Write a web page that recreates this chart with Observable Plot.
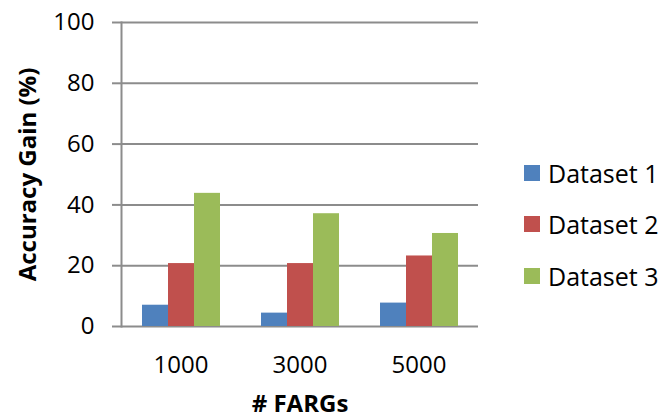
<!DOCTYPE html>
<html><head><meta charset="utf-8">
<script src="https://cdn.jsdelivr.net/npm/d3@7"></script>
<script src="https://cdn.jsdelivr.net/npm/@observablehq/plot@0.6"></script>
<style>
body{margin:0;background:#fff;}
#wrap{position:relative;width:672px;height:419px;font-family:"Open Sans",sans-serif;}
#legend{position:absolute;left:524px;top:0;}
.item{position:absolute;left:0;display:flex;align-items:center;white-space:nowrap;font-size:25px;color:#000;height:30px;}
.sw{width:16px;height:16px;margin-right:8px;flex:none;}
g[aria-label="y-axis label"] text, g[aria-label="fx-axis label"] text{font-weight:bold;}
</style></head><body><div id="wrap"><div id="legend"></div></div>
<script>
const groups = ["1000", "3000", "5000"];
const series = ["Dataset 1", "Dataset 2", "Dataset 3"];
const colors = ["#4F81BD", "#C0504D", "#9BBB59"];
const dataset1 = [7.0, 4.4, 7.7];
const dataset2 = [20.7, 20.7, 23.2];
const dataset3 = [43.8, 37.1, 30.6];
const yTicks = [0, 20, 40, 60, 80, 100];

const values = [dataset1, dataset2, dataset3];
const rows = groups.flatMap((g, i) => series.map((s, j) => ({group: g, series: s, value: values[j][i]})));

const plot = Plot.plot({
  width: 672, height: 419,
  marginLeft: 120, marginRight: 193, marginTop: 22, marginBottom: 93,
  style: {fontFamily: "'Open Sans', sans-serif", fontSize: "24px", background: "#fff", color: "#000", overflow: "visible"},
  fx: {domain: groups, paddingInner: 0, paddingOuter: 0},
  x: {domain: series, axis: null, paddingInner: 0, paddingOuter: 0.75},
  y: {domain: [0, 100]},
  color: {domain: series, range: colors},
  marks: [
    Plot.ruleY(yTicks, {stroke: "#8c8c8c", strokeWidth: 2}),
    Plot.barY(rows, {fx: "group", x: "series", y: "value", fill: "series"}),
    Plot.frame({anchor: "left", stroke: "#8c8c8c", strokeWidth: 2, facetAnchor: "left"}),
    Plot.axisY({ticks: yTicks, tickSize: 9, tickPadding: 18, stroke: "#8c8c8c", strokeWidth: 2, fill: "#000",
      fontSize: 24,
      label: "Accuracy Gain (%)", labelAnchor: "center", labelArrow: "none", labelOffset: 103}),
    Plot.axisFx({anchor: "bottom", tickSize: 0, tickPadding: 29, fill: "#000", fontSize: 24,
      label: "# FARGs", labelAnchor: "center", labelArrow: "none", labelOffset: 85})
  ]
});
document.getElementById("wrap").prepend(plot);

const legend = document.getElementById("legend");
const rowY = [173, 224, 276];
series.forEach((s, i) => {
  const it = document.createElement("div");
  it.className = "item";
  it.style.top = (rowY[i] - 15) + "px";
  const sw = document.createElement("span");
  sw.className = "sw";
  sw.style.background = colors[i];
  const t = document.createElement("span");
  t.textContent = s;
  it.append(sw, t);
  legend.append(it);
});
</script>
</body></html>
